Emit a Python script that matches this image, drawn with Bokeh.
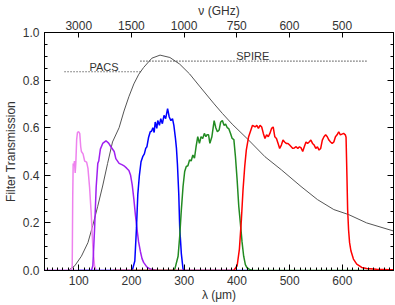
import math
from bokeh.plotting import figure
from bokeh.models import (Range1d, LinearAxis, SingleIntervalTicker, FixedTicker, Label,
                          PrintfTickFormatter, CustomJSTickFormatter)
from bokeh.embed import file_html
from bokeh.resources import INLINE

# ---------------- data ----------------
bb_wl = [80, 92.5, 105, 117.4, 126.7, 136, 145.3, 154.7, 164, 176.5, 185.8, 195, 204.5, 214, 223,
         238.6, 254.2, 272.9, 291.5, 310.2, 328.9, 356.8, 372.4, 391, 422.2, 453.2, 484.3,
         521.6, 552.7, 583.8, 611.8, 646, 697]
bb_tr = [0.0, 0.02, 0.06, 0.117, 0.19, 0.27, 0.355, 0.45, 0.54, 0.60, 0.67, 0.73, 0.784, 0.825, 0.853,
         0.892, 0.905, 0.895, 0.867, 0.826, 0.775, 0.70, 0.66, 0.615, 0.548, 0.478, 0.423,
         0.353, 0.298, 0.256, 0.235, 0.20, 0.166]

pink_wl = [35, 80, 86, 87.6, 88.5, 89.4, 90.7, 91.8, 93.2, 94.4, 96, 97.5, 100, 101.9, 103.7, 105,
           108.1, 111.2, 114.9, 117.4, 120.5, 123.6, 126.7, 129.9, 133, 140, 250]
pink_tr = [0, 0, 0, 0.02, 0.3, 0.45, 0.44, 0.46, 0.41, 0.45, 0.55, 0.58, 0.583, 0.575, 0.52, 0.50,
           0.49, 0.46, 0.455, 0.43, 0.35, 0.24, 0.10, 0.02, 0.0, 0, 0]

purple_wl = [35, 110, 124, 126.7, 129.9, 133, 136.1, 137.9, 141, 145.4, 151.6, 156.6, 160.9, 167.2,
             170.3, 176.5, 182.7, 185.8, 190.8, 195.1, 198.3, 201.4, 204.5, 207.6, 210.7, 213.5,
             216.9, 220, 223, 229, 235.6, 248, 300]
purple_tr = [0, 0, 0, 0.02, 0.17, 0.35, 0.45, 0.46, 0.51, 0.534, 0.545, 0.535, 0.52, 0.50,
             0.47, 0.45, 0.444, 0.44, 0.43, 0.42, 0.40, 0.36, 0.30, 0.23, 0.17, 0.12,
             0.08, 0.05, 0.034, 0.015, 0.006, 0, 0]

blue_wl = [100, 195, 201.4, 206.3, 209.5, 212, 215, 218.1, 221.3, 224.4, 227, 229.3, 232.5, 235.6,
           238, 240.6, 243, 245, 248, 249.8, 253, 255.5, 258.6, 261.7, 264.8, 268.5, 271.6,
           274.8, 277.8, 280.4, 283.4, 285.3, 287.2, 289.7, 291.5, 294.6, 297.8, 300, 430]
blue_tr = [0, 0, 0.0, 0.04, 0.18, 0.32, 0.40, 0.457, 0.478, 0.49, 0.513, 0.52, 0.56, 0.583,
           0.585, 0.60, 0.58, 0.624, 0.597, 0.63, 0.61, 0.638, 0.617, 0.652, 0.638, 0.68, 0.645,
           0.63, 0.638, 0.61, 0.555, 0.513, 0.444, 0.32, 0.18, 0.07, 0.006, 0, 0]

green_wl = [200, 278, 282.2, 288.4, 291.5, 294.6, 297.8, 300.9, 303.9, 307, 310.2, 313.2, 316.4,
            319.5, 322.5, 325.7, 328.9, 331.9, 335.1, 338.2, 341.2, 343.1, 346.2, 348.7, 352.5,
            356.8, 359.9, 363, 366.2, 369.2, 372.4, 375.5, 378.5, 381.7, 384.8, 387.9, 391,
            394.2, 397.2, 400.4, 403.5, 406.5, 409.7, 412.8, 416, 419, 425, 430, 697]
green_tr = [0, 0, 0.006, 0.06, 0.145, 0.256, 0.353, 0.416, 0.437, 0.44, 0.465, 0.46, 0.485,
            0.472, 0.52, 0.562, 0.534, 0.562, 0.555, 0.576, 0.562, 0.57, 0.57, 0.534, 0.562,
            0.63, 0.60, 0.583, 0.59, 0.624, 0.63, 0.61, 0.615, 0.60, 0.595, 0.576, 0.555,
            0.55, 0.478, 0.38, 0.27, 0.20, 0.12, 0.06, 0.025, 0.012, 0.003, 0, 0]

red_wl = [165, 390, 394, 400.4, 404.7, 408.5, 411.6, 414.8, 417.8, 422.2, 426.5, 429.6, 434.5,
          437.7, 440.8, 443.9, 447, 450.1, 453.2, 456.3, 459.5, 462.5, 465.7, 468.8, 471.8, 475,
          478.1, 481.1, 484.3, 487.4, 490.4, 493.6, 496.8, 499.9, 503, 506, 509, 512.4, 515.5,
          518.6, 521.7, 524.8, 527.8, 531, 534, 537, 540.3, 543.4, 546.5, 549.6, 552.7, 555.8,
          558.9, 562, 565.1, 568.3, 571.4, 574.5, 577.6, 580.7, 583.8, 586.9, 590, 593.1, 596.2,
          599.3, 602.4, 605.6, 607, 608.7, 610, 611.8, 613.7, 616.2, 621, 627.3, 636.7, 646,
          664.8, 689.6, 697]
red_tr = [0, 0, 0.0, 0.02, 0.09, 0.215, 0.34, 0.437, 0.506, 0.562, 0.59, 0.61, 0.603,
          0.61, 0.597, 0.61, 0.603, 0.576, 0.555, 0.57, 0.562, 0.576, 0.597, 0.603, 0.562, 0.555,
          0.534, 0.513, 0.527, 0.548, 0.54, 0.534, 0.534, 0.527, 0.52, 0.513, 0.515, 0.52, 0.513,
          0.52, 0.515, 0.50, 0.52, 0.54, 0.534, 0.54, 0.548, 0.534, 0.527, 0.513, 0.52, 0.506,
          0.513, 0.548, 0.562, 0.57, 0.562, 0.548, 0.54, 0.534, 0.54, 0.562, 0.57, 0.583, 0.57,
          0.573, 0.576, 0.57, 0.56, 0.395, 0.256, 0.17, 0.117, 0.083, 0.048, 0.027, 0.013, 0.008,
          0.005, 0.003, 0.003]

pacs_wl = [73, 217]
pacs_level = [0.835, 0.835]
spire_wl = [217, 648]
spire_level = [0.88, 0.88]

freq_ticks_ghz = [3000, 1500, 1000, 750, 600, 500]
C_UM_GHZ = 299792.458  # c in micron * GHz

FONT = "Liberation Sans"
TXT = "#333333"

p = figure(width=394, height=304, output_backend="svg", toolbar_location=None,
           x_range=Range1d(35, 697), y_range=Range1d(0, 1.0),
           min_border_left=38, min_border_right=1, min_border_top=31, min_border_bottom=33)
p.background_fill_color = "white"
p.border_fill_color = "white"
p.outline_line_color = "black"
p.xgrid.visible = False
p.ygrid.visible = False

# curves
p.line(bb_wl, bb_tr, line_color="#555555", line_width=1)
p.line(pink_wl, pink_tr, line_color="#EE82EE", line_width=1.5)
p.line(purple_wl, purple_tr, line_color="#A020F0", line_width=1.5)
p.line(blue_wl, blue_tr, line_color="#0000FF", line_width=1.5)
p.line(green_wl, green_tr, line_color="#228B22", line_width=1.5)
p.line(red_wl, red_tr, line_color="#FF0000", line_width=1.5)

p.line(pacs_wl, pacs_level, line_color="#222222", line_width=1.2, line_dash="1 2")
p.line(spire_wl, spire_level, line_color="#222222", line_width=1.2, line_dash="1 2")
p.add_layout(Label(x=148, y=0.853, text="PACS", text_align="center", text_baseline="alphabetic",
                   text_font=FONT, text_font_size="11px", text_color=TXT))
p.add_layout(Label(x=430, y=0.9, text="SPIRE", text_align="center", text_baseline="alphabetic",
                   text_font=FONT, text_font_size="11px", text_color=TXT))

# axes styling
def style(ax):
    ax.axis_line_color = "black"
    ax.major_tick_line_color = "black"
    ax.minor_tick_line_color = "black"
    ax.major_tick_in = 6
    ax.major_tick_out = 0
    ax.minor_tick_in = 3
    ax.minor_tick_out = 0
    ax.major_label_text_font = FONT
    ax.major_label_text_font_size = "12px"
    ax.major_label_text_color = TXT
    ax.axis_label_text_font = FONT
    ax.axis_label_text_font_style = "normal"
    ax.axis_label_text_font_size = "12px"
    ax.axis_label_text_color = TXT

xa = p.xaxis[0]
xa.ticker = SingleIntervalTicker(interval=100, num_minor_ticks=10)
style(xa)
xa.axis_label = "λ (μm)"
xa.major_label_standoff = 5
xa.axis_label_standoff = 0

ya = p.yaxis[0]
ya.ticker = SingleIntervalTicker(interval=0.2, num_minor_ticks=4)
style(ya)
ya.formatter = PrintfTickFormatter(format="%.1f")
ya.major_label_standoff = 5
ya.axis_label = "Filter Transmission"
ya.axis_label_standoff = 2

ra = LinearAxis(ticker=SingleIntervalTicker(interval=0.2, num_minor_ticks=4))
style(ra)
ra.formatter = CustomJSTickFormatter(code="return ''")
ra.major_label_text_color = None
ra.major_label_standoff = 0
p.add_layout(ra, "right")

top_pos = [round(C_UM_GHZ / f, 3) for f in freq_ticks_ghz]
ta = LinearAxis(ticker=FixedTicker(ticks=top_pos, minor_ticks=[]))
style(ta)
ta.major_tick_in = 5
ta.major_label_overrides = {pos: str(f) for pos, f in zip(top_pos, freq_ticks_ghz)}
ta.major_label_standoff = 3
ta.axis_label = "ν (GHz)"
ta.axis_label_standoff = 0
p.add_layout(ta, "above")

open("out.html", "w").write(file_html(p, INLINE))
